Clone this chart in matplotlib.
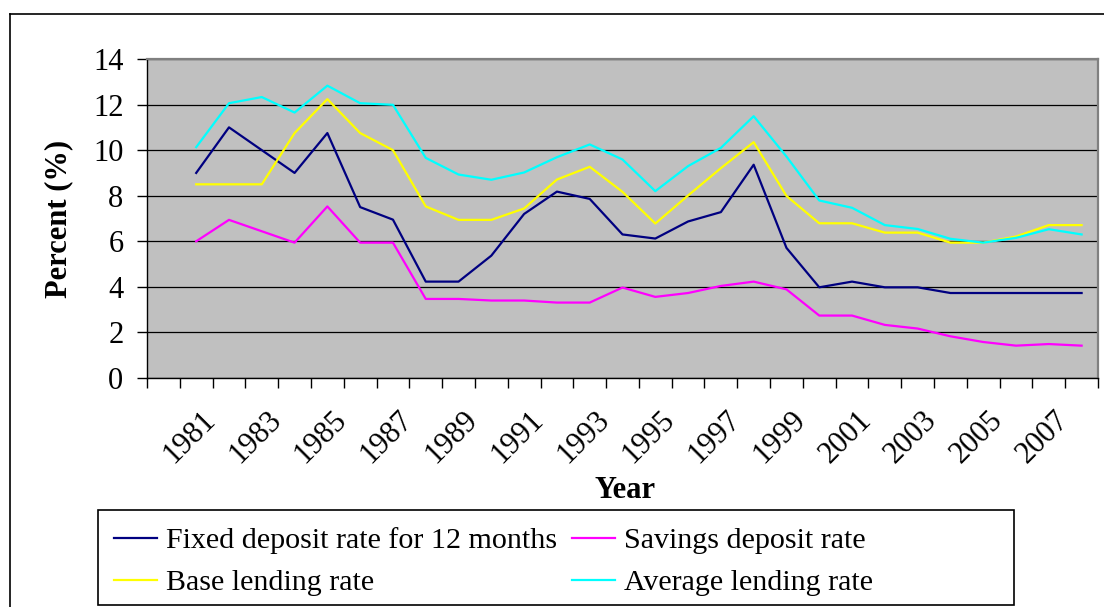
import numpy as np
import matplotlib
matplotlib.use('Agg')
import matplotlib.pyplot as plt
from matplotlib.lines import Line2D
from matplotlib.patches import Rectangle
from matplotlib.transforms import ScaledTranslation

#------------------------------------------------------------------------------

plt.rcParams['font.family'] = ['Liberation Serif', 'DejaVu Serif']

# categories: 1980 slot is left empty in the original chart
years = list(range(1980, 2009))
year_labels = [str(y) for y in range(1981, 2008, 2)]

# series values, 1981 .. 2008
fixed_deposit = [9.0, 11.0, 10.0, 9.0, 10.75, 7.5, 6.95, 4.23, 4.23, 5.37,
                 7.2, 8.18, 7.86, 6.3, 6.12, 6.87, 7.28, 9.36, 5.71, 3.98,
                 4.23, 3.98, 3.98, 3.73, 3.73, 3.73, 3.73, 3.73]
savings_deposit = [6.0, 6.94, 6.44, 5.94, 7.53, 5.94, 5.94, 3.47, 3.47, 3.40,
                   3.40, 3.31, 3.31, 3.97, 3.56, 3.73, 4.04, 4.23, 3.89, 2.74,
                   2.74, 2.33, 2.17, 1.83, 1.58, 1.42, 1.49, 1.42]
base_lending = [8.5, 8.5, 8.5, 10.75, 12.24, 10.75, 10.0, 7.53, 6.94, 6.94,
                7.44, 8.71, 9.27, 8.17, 6.78, 8.01, 9.21, 10.35, 7.99, 6.79,
                6.79, 6.38, 6.38, 5.94, 5.94, 6.21, 6.71, 6.71]
avg_lending = [10.13, 12.06, 12.33, 11.65, 12.83, 12.06, 11.99, 9.66, 8.93, 8.70,
               9.02, 9.69, 10.25, 9.59, 8.2, 9.30, 10.10, 11.49, 9.72, 7.79,
               7.47, 6.71, 6.54, 6.11, 5.94, 6.15, 6.53, 6.30]

series = [
    ('Fixed deposit rate for 12 months', fixed_deposit, '#000080'),
    ('Savings deposit rate', savings_deposit, '#FF00FF'),
    ('Base lending rate', base_lending, '#FFFF00'),
    ('Average lending rate', avg_lending, '#00FFFF'),
]

#------------------------------------------------------------------------------

W, H = 1104, 607
fig = plt.figure(figsize=(W / 100, H / 100), dpi=100)
fig.patch.set_facecolor('white')

ax = fig.add_axes([147 / W, 1 - 378 / H, (1098 - 147) / W, (378 - 59) / H])
ax.set_facecolor('#C0C0C0')

x_idx = np.arange(1, len(years))
handles = []
for name, vals, col in series:
    h, = ax.plot(x_idx, vals, color=col, lw=1.6, label=name, zorder=3)
    handles.append(h)

ax.set_xlim(-0.5, len(years) - 0.5)
ax.set_ylim(0, 14)
ax.set_yticks(np.arange(0, 15, 2))
ax.yaxis.grid(True, color='black', lw=0.9, zorder=1)
ax.set_axisbelow(True)

# category boundaries as minor ticks, labels at category centres
ax.set_xticks(np.arange(-0.5, len(years), 1.0), minor=True)
lab_pos = [years.index(int(s)) for s in year_labels]
ax.set_xticks(lab_pos)
ax.set_xticklabels(year_labels, rotation=45, ha='right', va='center',
                   rotation_mode='anchor', fontsize=22)
ax.tick_params(axis='x', which='major', length=0, pad=27)
ax.tick_params(axis='x', which='minor', length=7, width=1, direction='out')
ax.tick_params(axis='y', length=7, width=1, direction='out', pad=10, labelsize=22)
for lbl in ax.get_xticklabels():
    lbl.set_transform(lbl.get_transform() + ScaledTranslation(0.15, 0, fig.dpi_scale_trans))

for s in ['left', 'bottom']:
    ax.spines[s].set_color('black')
    ax.spines[s].set_linewidth(1.0)
for s in ['top', 'right']:
    ax.spines[s].set_color('#808080')
    ax.spines[s].set_linewidth(1.6)

ax.set_ylabel('Percent (%)', fontsize=22, fontweight='bold', labelpad=14)
fig.text(625 / W, 1 - 490 / H, 'Year', fontsize=22, fontweight='bold',
         ha='center', va='center')

# outer chart border (right/bottom are cut off in the original)
fig.add_artist(Line2D([10 / W, 1.0], [1 - 14 / H, 1 - 14 / H], color='black', lw=1.2))
fig.add_artist(Line2D([10 / W, 10 / W], [1 - 14 / H, 0.0], color='black', lw=1.2))

# legend box, filled row by row like the original
fig.add_artist(Rectangle((98 / W, 1 - 605 / H), (1014 - 98) / W, (605 - 510) / H,
                         transform=fig.transFigure, fill=False, ec='black', lw=1.2))
order = [0, 2, 1, 3]
fig.legend(handles=[handles[i] for i in order], loc='upper left', ncol=2, frameon=False,
           bbox_to_anchor=(93 / W, 1 - 506 / H), fontsize=21.6,
           handlelength=1.43, handletextpad=0.3, columnspacing=0.5,
           labelspacing=0.5, borderpad=0.2)

plt.savefig('out.png', dpi=100)
